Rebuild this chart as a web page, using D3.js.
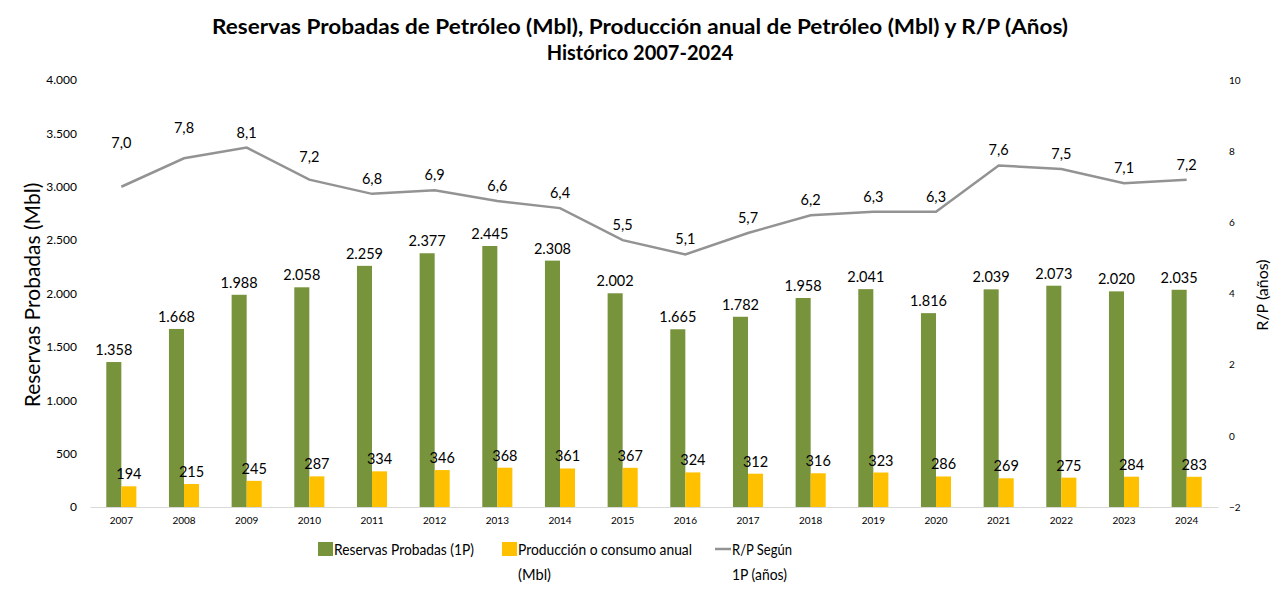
<!DOCTYPE html>
<meta charset="utf-8">
<head>
    <style>
        body { margin: 0; background: #fff; }
        text { font-family: Lato, "Open Sans", sans-serif; fill: #000; }
        .axis text { fill: #000; }
    </style>
</head>
<body>
    <svg width="1280" height="595"></svg>
</body>
<script src="https://d3js.org/d3.v7.min.js"></script>
<script>

    var years = ["2007", "2008", "2009", "2010", "2011", "2012", "2013", "2014", "2015",
        "2016", "2017", "2018", "2019", "2020", "2021", "2022", "2023", "2024"];
    var reservas = [1358, 1668, 1988, 2058, 2259, 2377, 2445, 2308, 2002,
        1665, 1782, 1958, 2041, 1816, 2039, 2073, 2020, 2035];
    var produccion = [194, 215, 245, 287, 334, 346, 368, 361, 367,
        324, 312, 316, 323, 286, 269, 275, 284, 283];
    var rp = [7.0, 7.8, 8.1, 7.2, 6.8, 6.9, 6.6, 6.4, 5.5,
        5.1, 5.7, 6.2, 6.3, 6.3, 7.6, 7.5, 7.1, 7.2];
    var leftTicks = [0, 500, 1000, 1500, 2000, 2500, 3000, 3500, 4000];
    var rightTicks = [-2, 0, 2, 4, 6, 8, 10];

    // extra lift of a few line labels, as placed in the original
    var labelLift = { "2007": 29, "2008": 15, "2010": 8 };

    var svg = d3.select("svg"),
        plotLeft = 90, plotRight = 1218, plotTop = 80, plotBottom = 507;

    var esLocale = d3.formatLocale({ decimal: ",", thousands: ".", grouping: [3], currency: ["", ""] });
    var fmtInt = esLocale.format(",.0f"),
        fmtDec = esLocale.format(",.1f");

    var green = "#77933C", yellow = "#FFC000", gray = "#939393";

    var x = d3.scaleBand().domain(years).range([plotLeft, plotRight]);
    var xs = d3.scaleBand().domain(["res", "prod"])
        .range([x.bandwidth() * 0.26, x.bandwidth() * 0.74]);
    var y = d3.scaleLinear().domain([0, 4000]).range([plotBottom, plotTop]);
    var y2 = d3.scaleLinear().domain([-2, 10]).range([plotBottom, plotTop]);

    // title
    var title = svg.append("g").attr("text-anchor", "middle")
        .style("font-weight", "bold").style("font-size", "20px");
    title.append("text").attr("x", 640).attr("y", 34)
        .attr("textLength", 856).attr("lengthAdjust", "spacingAndGlyphs")
        .text("Reservas Probadas de Petróleo (Mbl), Producción anual de Petróleo (Mbl) y R/P (Años)");
    title.append("text").attr("x", 640).attr("y", 60)
        .text("Histórico 2007-2024");

    // left axis
    var yAxis = svg.append("g").attr("class", "axis")
        .attr("transform", "translate(" + (plotLeft - 13) + ",0)")
        .call(d3.axisLeft(y).tickValues(leftTicks).tickFormat(fmtInt).tickSize(0).tickPadding(0));
    yAxis.select(".domain").remove();
    yAxis.selectAll("text").style("font-size", "12px").style("font-family", "Lato, sans-serif");

    // right axis
    var y2Axis = svg.append("g").attr("class", "axis")
        .attr("transform", "translate(1229,0)")
        .call(d3.axisRight(y2).tickValues(rightTicks).tickSize(0).tickPadding(0));
    y2Axis.select(".domain").remove();
    y2Axis.selectAll("text").style("font-size", "10px").style("font-family", "Lato, sans-serif");

    // x axis
    var xAxis = svg.append("g").attr("class", "axis")
        .attr("transform", "translate(0," + plotBottom + ")")
        .call(d3.axisBottom(x).tickSize(0).tickPadding(10));
    xAxis.select(".domain").attr("stroke", "#d9d9d9");
    xAxis.selectAll("text").style("font-size", "10px").style("font-family", "Lato, sans-serif");

    // axis titles
    svg.append("text")
        .attr("transform", "translate(40,295) rotate(-90)")
        .attr("text-anchor", "middle")
        .style("font-size", "21px")
        .text("Reservas Probadas (Mbl)");
    svg.append("text")
        .attr("transform", "translate(1268,295) rotate(-90)")
        .attr("text-anchor", "middle")
        .style("font-size", "16px")
        .text("R/P (años)");

    // bars
    var groups = svg.append("g").selectAll("g")
        .data(years)
        .enter().append("g")
        .attr("transform", function (d) { return "translate(" + x(d) + ",0)"; });

    groups.append("rect")
        .attr("x", xs("res"))
        .attr("width", xs.bandwidth())
        .attr("y", function (d, i) { return y(reservas[i]); })
        .attr("height", function (d, i) { return plotBottom - y(reservas[i]); })
        .attr("fill", green);

    groups.append("rect")
        .attr("x", xs("prod"))
        .attr("width", xs.bandwidth())
        .attr("y", function (d, i) { return y(produccion[i]); })
        .attr("height", function (d, i) { return plotBottom - y(produccion[i]); })
        .attr("fill", yellow);

    groups.append("text")
        .attr("x", xs("res") + xs.bandwidth() / 2)
        .attr("y", function (d, i) { return y(reservas[i]) - 7; })
        .attr("text-anchor", "middle")
        .style("font-size", "14.5px")
        .text(function (d, i) { return fmtInt(reservas[i]); });

    groups.append("text")
        .attr("x", xs("prod") + xs.bandwidth() / 2)
        .attr("y", function (d, i) { return y(produccion[i]) - 7; })
        .attr("text-anchor", "middle")
        .style("font-size", "14.5px")
        .text(function (d, i) { return fmtInt(produccion[i]); });

    // R/P line
    var line = d3.line()
        .x(function (d, i) { return x(years[i]) + x.bandwidth() / 2; })
        .y(function (d) { return y2(d); });

    svg.append("path")
        .datum(rp)
        .attr("d", line)
        .attr("fill", "none")
        .attr("stroke", gray)
        .attr("stroke-width", 2.5);

    svg.append("g").selectAll("text")
        .data(rp)
        .enter().append("text")
        .attr("x", function (d, i) { return x(years[i]) + x.bandwidth() / 2; })
        .attr("y", function (d, i) { return y2(d) - 10 - (labelLift[years[i]] || 0); })
        .attr("text-anchor", "middle")
        .style("font-size", "14.5px")
        .text(function (d) { return fmtDec(d); });

    // legend
    var legend = svg.append("g").style("font-size", "16px");
    function legendText(tx, ty, len, s) {
        legend.append("text").attr("x", tx).attr("y", ty)
            .attr("textLength", len).attr("lengthAdjust", "spacingAndGlyphs")
            .text(s);
    }
    legend.append("rect").attr("x", 318).attr("y", 542).attr("width", 15).attr("height", 14).attr("fill", green);
    legendText(334, 555, 140, "Reservas Probadas (1P)");
    legend.append("rect").attr("x", 502).attr("y", 542).attr("width", 15).attr("height", 14).attr("fill", yellow);
    legendText(518, 555, 174, "Producción o consumo anual");
    legendText(518, 580, 33, "(Mbl)");
    legend.append("line").attr("x1", 715).attr("x2", 731).attr("y1", 549).attr("y2", 549)
        .attr("stroke", gray).attr("stroke-width", 2.5);
    legendText(732, 555, 60, "R/P Según");
    legendText(732, 580, 55, "1P (años)");

</script>
